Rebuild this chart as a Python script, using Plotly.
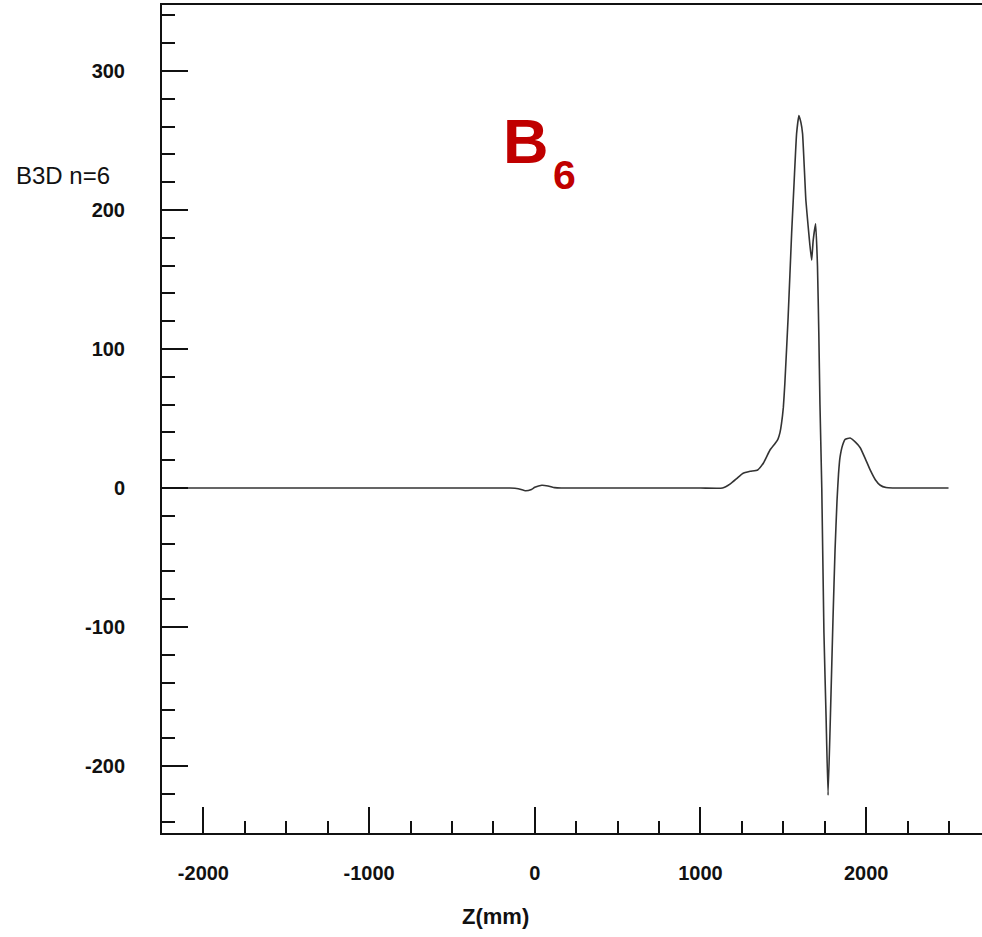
import plotly.graph_objects as go

# Z position (mm) and B3D n=6 values
z_mm = [-2250, -1000, -300, -150, -100, -55, -20, 0, 42, 80, 120, 160, 600, 1000,
        1133, 1180, 1220, 1255, 1300, 1345, 1380, 1418, 1450, 1467, 1480, 1489, 1500,
        1509, 1529, 1550, 1565, 1580, 1594, 1606, 1616, 1636, 1650, 1660, 1671, 1680,
        1695, 1706, 1714, 1721, 1732, 1745, 1758, 1770, 1785, 1800, 1812, 1824, 1833,
        1842, 1858, 1873, 1903, 1935, 1964, 1995, 2024, 2055, 2085, 2120, 2160, 2300, 2497]
b3d_n6 = [0, 0, 0, 0, -0.5, -2, -1, 0.5, 2, 1.5, 0.3, 0, 0, 0,
          0, 3, 7, 10.5, 12, 13, 18, 27, 32, 35, 40, 46.5, 58,
          75, 123, 183, 220, 255, 268, 263, 255, 207, 188, 175, 164, 178,
          190, 160, 112, 60, 0, -104, -165, -221, -160, -93, -45, -9, 10,
          22, 31, 35, 36, 33, 29, 21, 13, 6, 2, 0.3, 0, 0, 0]

x_tick_vals = [-2000, -1000, 0, 1000, 2000]
x_tick_text = ["-2000", "-1000", "0", "1000", "2000"]
y_tick_vals = [-200, -100, 0, 100, 200, 300]
y_tick_text = ["-200", "-100", "0", "100", "200", "300"]

fig = go.Figure()
fig.add_trace(go.Scatter(x=z_mm, y=b3d_n6, mode="lines",
                         line=dict(color="#333333", width=1.6, shape="spline", smoothing=0.4),
                         showlegend=False, hoverinfo="skip"))

FONT = "Liberation Sans, Arial, sans-serif"
tickfont = dict(family=FONT, size=20, color="#111111", weight="bold")

fig.update_layout(
    width=982, height=937,
    margin=dict(l=162, r=0, t=5, b=104),
    paper_bgcolor="white", plot_bgcolor="white",
    xaxis=dict(range=[-2250, 2699], tickvals=x_tick_vals, ticktext=x_tick_text,
               ticks="inside", ticklen=26,
               tickwidth=2, tickcolor="#111111", showline=True, linewidth=2, linecolor="#111111",
               mirror=True, showgrid=False, zeroline=False, tickfont=tickfont,
               ticklabelstandoff=21,
               minor=dict(dtick=250, tick0=0, ticks="inside", ticklen=12, tickwidth=2,
                          tickcolor="#111111", showgrid=False)),
    yaxis=dict(range=[-248.2, 347.5], tickvals=y_tick_vals, ticktext=y_tick_text,
               ticks="inside", ticklen=26,
               tickwidth=2, tickcolor="#111111", showline=True, linewidth=2, linecolor="#111111",
               showgrid=False, zeroline=False, tickfont=tickfont, ticklabelstandoff=31,
               minor=dict(dtick=20, tick0=0, ticks="inside", ticklen=13, tickwidth=2,
                          tickcolor="#111111", showgrid=False)),
    annotations=[
        dict(text="B3D n=6", xref="paper", yref="paper", x=(14 - 162) / 820, y=0.7935,
             xanchor="left", yanchor="middle", showarrow=False,
             font=dict(family=FONT, size=24, color="#111111")),
        dict(text="Z(mm)", xref="paper", yref="paper", x=0.4073, y=-0.1014,
             xanchor="center", yanchor="middle", showarrow=False,
             font=dict(family=FONT, size=22, color="#111111", weight="bold")),
        dict(text="B", xref="paper", yref="paper", x=(525.5 - 162) / 820, y=(833 - 141.5) / 828,
             xanchor="center", yanchor="middle", showarrow=False,
             font=dict(family=FONT, size=63, color="#C00000", weight="bold")),
        dict(text="6", xref="paper", yref="paper", x=(564 - 162) / 820, y=(833 - 174.5) / 828,
             xanchor="center", yanchor="middle", showarrow=False,
             font=dict(family=FONT, size=41, color="#C00000", weight="bold")),
    ],
)

fig.write_html("out.html", config={"displayModeBar": False},
               post_script="document.body.style.margin='0px';")
